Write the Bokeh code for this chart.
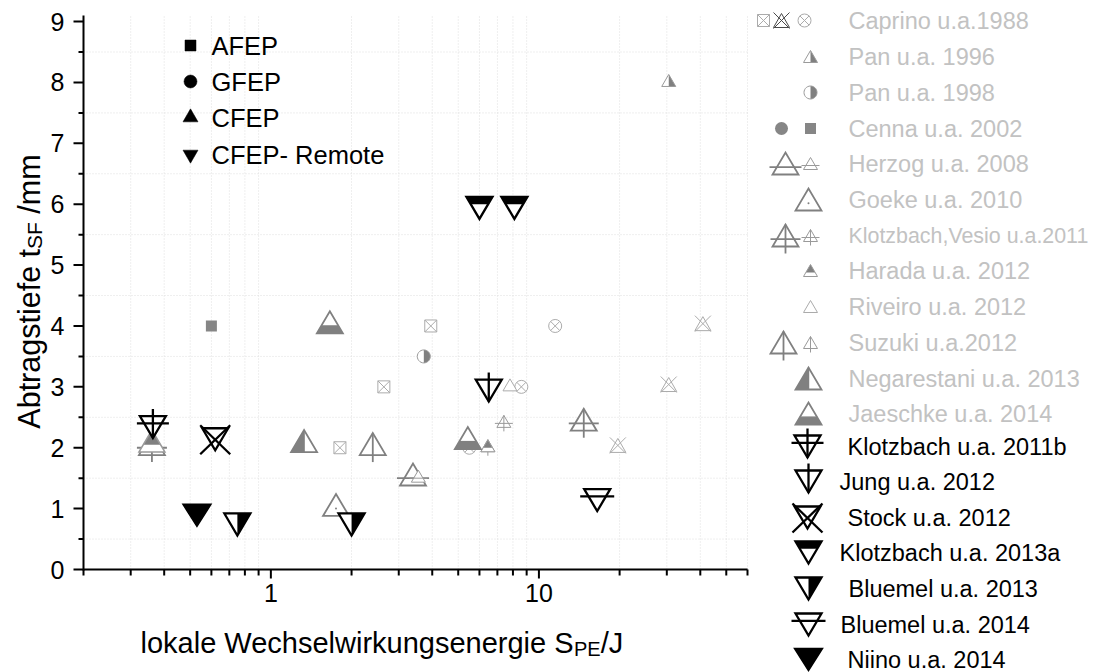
import math
from bokeh.plotting import figure
from bokeh.models import Range1d
from bokeh.core.properties import value
from bokeh.embed import file_html
from bokeh.resources import INLINE

FONT = "Liberation Sans"

# ---------------------------------------------------------------------------
# Data: local interaction energy S_PE [J] (x) vs. removal depth t_SF [mm] (y)
# ---------------------------------------------------------------------------
# literature
caprino_sq_x = [1.81, 2.64, 3.95]
caprino_sq_y = [2.0, 3.0, 4.0]
caprino_tri_x = [19.7, 30.5, 40.9]
caprino_tri_y = [2.0, 3.0, 4.0]
caprino_circ_x = [5.5, 8.6, 11.5]
caprino_circ_y = [2.0, 3.0, 4.0]
pan1996_x = [30.5]
pan1996_y = [8.0]
pan1998_x = [3.72]
pan1998_y = [3.5]
cenna_x = [0.6]
cenna_y = [4.0]
herzog_x = [3.39]
herzog_y = [1.5]
herzog_small_x = [3.55]
herzog_small_y = [1.5]
goeke_x = [1.75]
goeke_y = [1.0]
kv_x = [0.36, 14.7]
kv_y = [2.0, 2.4]
kv_small_x = [7.4]
kv_small_y = [2.4]
harada_x = [0.36, 6.45]
harada_y = [2.05, 2.0]
riveiro_x = [7.8]
riveiro_y = [3.0]
suzuki_x = [2.4]
suzuki_y = [2.0]
suzuki_small_x = [6.45]
suzuki_small_y = [2.0]
negarestani_x = [1.33]
negarestani_y = [2.05]
jaeschke_x = [1.66, 5.43]
jaeschke_y = [4.0, 2.1]
# own work
klotzbach11b_x = [0.363]
klotzbach11b_y = [2.4]
jung_x = [6.5]
jung_y = [3.0]
stock_x = [0.62]
stock_y = [2.2]
klotzbach13a_x = [6.0, 8.1]
klotzbach13a_y = [6.0, 6.0]
bluemel13_x = [0.75, 2.0]
bluemel13_y = [0.8, 0.8]
bluemel14_x = [16.5]
bluemel14_y = [1.2]
niino_x = [0.53]
niino_y = [0.95]

# axes
x_major = [1, 10]
x_major_labels = ["1", "10"]
x_minor = [k * d for d in (0.1, 1, 10) for k in range(2, 10) if 0.2 <= k * d <= 60]
y_major = list(range(10))
y_major_labels = [str(v) for v in y_major]
y_minor = [i + 0.5 for i in range(9)]

# ---------------------------------------------------------------------------
# Geometry: plot area inside a full-page canvas
# ---------------------------------------------------------------------------
PAGE_W, PAGE_H = 1093, 672
X0, X1 = 0.2, 60.0           # axis extent (log)
Y0, Y1 = 0.0, 9.1            # axis extent (linear)
FW, FH = 664, 554            # axis box in px
L, T = 83, 15                # axis box offset in px
PPD = FW / math.log10(X1 / X0)
PPY = FH / (Y1 - Y0)


def page_to_data(px, py):
    return X0 * 10 ** ((px - L) / PPD), Y0 + (T + FH - py) / PPY


def conv(xc, yc, dx, dy):
    """Shift a data point by a pixel offset (dx right, dy up)."""
    return xc * 10 ** (dx / PPD), yc + dy / PPY


# ---------------------------------------------------------------------------
# Marker construction (offsets in pixels, y up, anchor = triangle centroid)
# ---------------------------------------------------------------------------
W = "white"
G = "#808080"
GF = "#868686"
GS = "#9a9a9a"
GL = "#ababab"
K = "black"
BW, BH = 26, 22
SW, SH = 14, 12


def up(w, h):
    return [(-w / 2, -h / 3), (w / 2, -h / 3), (0, 2 * h / 3)]


def dn(w, h):
    return [(-w / 2, h / 3), (w / 2, h / 3), (0, -2 * h / 3)]


def circ(r, a0=0.0, a1=2 * math.pi, n=28):
    return [(r * math.cos(a0 + (a1 - a0) * i / n), r * math.sin(a0 + (a1 - a0) * i / n)) for i in range(n + 1)]


def P(pts, fill, line, lw=1.0):
    return ("P", pts, fill, line, lw)


def S(pts, color, lw=1.0):
    return ("S", pts, color, lw)


def M(marker, size, fill, line, lw=1.0):
    return ("M", marker, size, fill, line, lw)


def parts(kind):
    if kind == "caprino_sq":
        return [M("square_x", 12, W, GL, 1)]
    if kind == "caprino_circ":
        return [M("circle_x", 13, W, GL, 1)]
    if kind in ("caprino_tri", "caprino_tri_dark"):
        c = GL if kind == "caprino_tri" else "#4a4a4a"
        w, h = 16, 14
        cy = h / 6
        return [P(up(w, h), W, c, 1),
                S([(-8, cy + 8), (8, cy - 8)], c, 1),
                S([(-8, cy - 8), (8, cy + 8)], c, 1)]
    if kind == "pan1996":
        w, h = SW, SH
        return [P(up(w, h), W, None), P([(0, -h / 3), (w / 2, -h / 3), (0, 2 * h / 3)], G, None),
                P(up(w, h), None, GS, 1)]
    if kind == "pan1998":
        return [P(circ(6.5), W, None), P(circ(6.5, -math.pi / 2, math.pi / 2), G, None),
                P(circ(6.5), None, GS, 1)]
    if kind == "cenna_circ":
        return [M("circle", 13, GF, None, 0)]
    if kind == "cenna_sq":
        return [M("square", 11, GF, None, 0)]
    if kind == "herzog_big":
        return [P(up(BW, BH), W, G, 1.8), S([(-BW / 2 - 3, 0), (BW / 2 + 3, 0)], G, 1.8)]
    if kind == "herzog_small":
        return [P(up(SW, SH), W, GS, 1), S([(-SW / 2 - 2, 0), (SW / 2 + 2, 0)], GS, 1)]
    if kind == "goeke":
        return [P(up(BW, BH), W, G, 1.8), M("circle", 2, G, None, 0)]
    if kind == "kv_big":
        return [P(up(BW, BH), W, G, 1.8), S([(-BW / 2 - 2, 0), (BW / 2 + 2, 0)], G, 1.8),
                S([(0, 2 * BH / 3), (0, -BH / 3 - 7)], G, 1.8)]
    if kind == "kv_small":
        return [P(up(SW, SH), W, GS, 1), S([(-SW / 2 - 2, 0), (SW / 2 + 2, 0)], GS, 1),
                S([(0, 2 * SH / 3), (0, -SH / 3 - 4)], GS, 1)]
    if kind in ("harada", "harada_big"):
        w, h, lw = (SW, SH, 1) if kind == "harada" else (BW, BH, 1.5)
        return [P(up(w, h), W, None), P([(-w / 3, 0), (w / 3, 0), (0, 2 * h / 3)], G, None),
                P(up(w, h), None, GS, lw)]
    if kind == "riveiro":
        return [P(up(SW, SH), W, GL, 1)]
    if kind == "suzuki_big":
        return [P(up(BW, BH), W, G, 1.8), S([(0, 2 * BH / 3), (0, -BH / 3 - 7)], G, 1.8)]
    if kind == "suzuki_small":
        return [P(up(SW, SH), W, GS, 1), S([(0, 2 * SH / 3), (0, -SH / 3 - 4)], GS, 1)]
    if kind == "negarestani":
        w, h = BW, BH
        return [P(up(w, h), W, None), P([(-w / 2, -h / 3), (0, -h / 3), (0, 2 * h / 3)], G, None),
                P(up(w, h), None, G, 1.8), S([(0, -h / 3), (0, 2 * h / 3)], G, 1.5)]
    if kind == "jaeschke":
        w, h = BW, BH
        return [P(up(w, h), W, None),
                P([(-w / 2, -h / 3), (w / 2, -h / 3), (w / 3, 0), (-w / 3, 0)], G, None),
                P(up(w, h), None, G, 1.8), S([(-w / 3, 0), (w / 3, 0)], G, 1.5)]
    w, h, lw = 26, 22, 2.3
    if kind == "k11b":
        return [P(dn(w, h), W, K, lw), S([(-w / 2 - 3, 0), (w / 2 + 3, 0)], K, lw),
                S([(0, -2 * h / 3), (0, h / 3 + 7)], K, lw)]
    if kind == "jung":
        return [P(dn(w, h), W, K, lw), S([(0, -2 * h / 3), (0, h / 3 + 7)], K, lw)]
    if kind == "stock":
        cy = -h / 6
        return [P(dn(w, h), W, K, lw),
                S([(-15, cy + 14), (15, cy - 15)], K, lw),
                S([(-15, cy - 15), (15, cy + 14)], K, lw)]
    if kind == "k13a":
        return [P(dn(w, h), W, None),
                P([(-w / 2, h / 3), (w / 2, h / 3), (w / 3, 0), (-w / 3, 0)], K, None),
                P(dn(w, h), None, K, lw)]
    if kind == "b13":
        return [P(dn(w, h), W, None), P([(0, h / 3), (w / 2, h / 3), (0, -2 * h / 3)], K, None),
                P(dn(w, h), None, K, lw)]
    if kind == "b14":
        return [P(dn(w, h), W, K, lw), S([(-w / 2 - 4, 0), (w / 2 + 4, 0)], K, lw)]
    if kind == "niino":
        return [P(dn(28, 22), K, K, 1.5)]
    raise ValueError(kind)


def bbox_shift(kind):
    """Height (px) of a marker's bounding-box centre above its anchor."""
    if kind in ("caprino_sq", "caprino_circ", "pan1998", "cenna_circ", "cenna_sq"):
        return 0.0
    if kind in ("caprino_tri", "caprino_tri_dark"):
        return 14 / 6
    if kind in ("k11b", "jung", "stock", "k13a", "b13", "b14", "niino"):
        return -22 / 6
    if kind in ("pan1996", "herzog_small", "kv_small", "harada", "riveiro", "suzuki_small"):
        return SH / 6
    return BH / 6


def draw(fig, kind, xs, ys):
    for prim in parts(kind):
        if prim[0] in ("P", "S"):
            pts = prim[1]
            PX, PY = [], []
            for xc, yc in zip(xs, ys):
                q = [conv(xc, yc, dx, dy) for dx, dy in pts]
                PX.append([a for a, _ in q])
                PY.append([b for _, b in q])
            if prim[0] == "P":
                _, _, fill, line, lw = prim
                fig.patches(PX, PY, fill_color=fill, line_color=line, line_width=lw,
                            line_join="miter")
            else:
                _, _, color, lw = prim
                fig.multi_line(PX, PY, line_color=color, line_width=lw)
        else:
            _, marker, size, fill, line, lw = prim
            fig.scatter(list(xs), list(ys), marker=marker, size=size, fill_color=fill,
                        line_color=line, line_width=lw)


def text(fig, px, py, s, size, color="black", align="left", angle=0.0):
    x, y = page_to_data(px, py)
    fig.text([x], [y], text=[s], text_font=value(FONT), text_font_size=value(size),
             text_align=align, text_baseline="middle", text_color=color, angle=angle)


# ---------------------------------------------------------------------------
# Figure
# ---------------------------------------------------------------------------
xa, ya = page_to_data(0, PAGE_H)
xb, yb = page_to_data(PAGE_W, 0)
p = figure(width=PAGE_W, height=PAGE_H, title=None, x_axis_type="log",
           x_range=Range1d(xa, xb), y_range=Range1d(ya, yb),
           min_border=0, x_axis_location=None, y_axis_location=None,
           output_backend="svg", toolbar_location=None)
p.outline_line_color = None
p.grid.visible = False
p.background_fill_color = "white"
p.border_fill_color = "white"

# dotted minor grid
GRID = dict(line_color="#dedede", line_width=1, line_dash="1 2")
p.segment(x0=x_minor, y0=[Y0] * len(x_minor), x1=x_minor, y1=[Y1] * len(x_minor), **GRID)
p.segment(x0=[X0] * len(y_minor), y0=y_minor, x1=[X1] * len(y_minor), y1=y_minor, **GRID)

# axis lines
p.segment(x0=[X0, X0], y0=[Y0 - 1 / PPY, Y0], x1=[X0, X1], y1=[Y1, Y0], line_color="black",
          line_width=2)


# ticks (outward)
def ticks_y(vals, length):
    x_end = conv(X0, 0, -length, 0)[0]
    p.segment(x0=[X0] * len(vals), y0=vals, x1=[x_end] * len(vals), y1=vals,
              line_color="black", line_width=2)


def ticks_x(vals, length):
    y_end = conv(1, Y0, 0, -length)[1]
    p.segment(x0=vals, y0=[Y0] * len(vals), x1=vals, y1=[y_end] * len(vals),
              line_color="black", line_width=2)


ticks_y(y_major, 10)
ticks_y(y_minor, 5)
ticks_x(x_major, 9)
ticks_x(x_minor, 6)

# tick labels
ylx = conv(X0, 0, -19, 0)[0]
p.text(x=[ylx] * len(y_major), y=y_major, text=y_major_labels, text_font=value(FONT),
       text_font_size=value("25px"), text_align="right", text_baseline="middle",
       text_color="black")
xly = conv(1, Y0, 0, -14)[1]
p.text(x=x_major, y=[xly] * len(x_major), text=x_major_labels, text_font=value(FONT),
       text_font_size=value("25px"), text_align="center", text_baseline="top",
       text_color="black")

# literature series
draw(p, "caprino_sq", caprino_sq_x, caprino_sq_y)
draw(p, "caprino_tri", caprino_tri_x, caprino_tri_y)
draw(p, "caprino_circ", caprino_circ_x, caprino_circ_y)
draw(p, "pan1996", pan1996_x, pan1996_y)
draw(p, "pan1998", pan1998_x, pan1998_y)
draw(p, "cenna_sq", cenna_x, cenna_y)
draw(p, "goeke", goeke_x, goeke_y)
draw(p, "herzog_big", herzog_x, herzog_y)
draw(p, "herzog_small", herzog_small_x, herzog_small_y)
draw(p, "kv_big", kv_x, kv_y)
draw(p, "harada_big", harada_x[:1], harada_y[:1])
draw(p, "kv_small", kv_small_x, kv_small_y)
draw(p, "riveiro", riveiro_x, riveiro_y)
draw(p, "suzuki_big", suzuki_x, suzuki_y)
draw(p, "suzuki_small", suzuki_small_x, suzuki_small_y)
draw(p, "harada", harada_x[1:], harada_y[1:])
draw(p, "negarestani", negarestani_x, negarestani_y)
draw(p, "jaeschke", jaeschke_x, jaeschke_y)
# own series
draw(p, "k11b", klotzbach11b_x, klotzbach11b_y)
draw(p, "jung", jung_x, jung_y)
draw(p, "stock", stock_x, stock_y)
draw(p, "k13a", klotzbach13a_x, klotzbach13a_y)
draw(p, "b13", bluemel13_x, bluemel13_y)
draw(p, "b14", bluemel14_x, bluemel14_y)
draw(p, "niino", niino_x, niino_y)

# process key
proc_names = ["AFEP", "GFEP", "CFEP", "CFEP- Remote"]
proc_markers = ["square", "circle", "triangle", "inverted_triangle"]
proc_sizes = [11, 13, 15, 15]
proc_rows = [45, 81, 117, 154]
for name, mk, sz, ry in zip(proc_names, proc_markers, proc_sizes, proc_rows):
    mx, my = page_to_data(190, ry)
    p.scatter([mx], [my], marker=mk, size=sz, fill_color="black", line_color="black",
              line_width=0.5)
    text(p, 211, ry, name, "25.5px")

# axis titles with subscripts (Arial-compatible advance widths)
AW = {" ": 278, "/": 278, ".": 278, ",": 278, "-": 333,
      "A": 667, "E": 667, "F": 611, "J": 500, "P": 667, "S": 667, "W": 944,
      "a": 556, "b": 556, "c": 500, "e": 556, "f": 278, "g": 556, "h": 556, "i": 222,
      "k": 500, "l": 222, "m": 833, "n": 556, "o": 556, "r": 333, "s": 500, "t": 278,
      "u": 556, "w": 722}


def tw(s, size):
    return sum(AW.get(c, 556) for c in s) * size / 1000.0


XL, XS = 29, 20
cx, mid = 140.0, 642.0
for txt, fs, off in [("lokale Wechselwirkungsenergie S", XL, 0), ("PE", XS, 6), ("/J", XL, 0)]:
    text(p, cx, mid + off, txt, f"{fs}px")
    cx += tw(txt, fs)

YL, YS = 30.5, 21
ytotal = tw("Abtragstiefe t", YL) + tw("SF", YS) + tw(" /mm", YL)
cy, midx = 291.0 + ytotal / 2, 28.0
for txt, fs, off in [("Abtragstiefe t", YL, 0), ("SF", YS, 6), ("/mm", YL, 0)]:
    if txt == "/mm":
        cy -= tw(" ", YL)
    text(p, midx + off, cy, txt, f"{fs}px", angle=math.pi / 2)
    cy -= tw(txt, fs)

# study key (right-hand side)
GT = "#c2c2c2"
LF = "23.5px"
legend_rows = [
    (20, "Caprino u.a.1988", GT, 848, LF, [(763, "caprino_sq"), (781, "caprino_tri_dark"), (804, "caprino_circ")]),
    (56, "Pan u.a. 1996", GT, 848, LF, [(810, "pan1996")]),
    (92, "Pan u.a. 1998", GT, 848, LF, [(810, "pan1998")]),
    (128, "Cenna u.a. 2002", GT, 848, LF, [(781, "cenna_circ"), (810, "cenna_sq")]),
    (163, "Herzog u.a. 2008", GT, 848, LF, [(785, "herzog_big"), (810, "herzog_small")]),
    (199, "Goeke u.a. 2010", GT, 848, LF, [(808, "goeke")]),
    (235, "Klotzbach,Vesio u.a.2011", GT, 848, "21.4px", [(785, "kv_big"), (810, "kv_small")]),
    (270, "Harada u.a. 2012", GT, 848, LF, [(810, "harada")]),
    (306, "Riveiro u.a. 2012", GT, 848, LF, [(810, "riveiro")]),
    (342, "Suzuki u.a.2012", GT, 848, LF, [(783, "suzuki_big"), (810, "suzuki_small")]),
    (378, "Negarestani u.a. 2013", GT, 848, LF, [(808, "negarestani")]),
    (413, "Jaeschke u.a. 2014", GT, 848, LF, [(808, "jaeschke")]),
    (446, "Klotzbach u.a. 2011b", K, 847, LF, [(807, "k11b")]),
    (481, "Jung u.a. 2012", K, 839, LF, [(808, "jung")]),
    (517, "Stock u.a. 2012", K, 847, LF, [(807, "stock")]),
    (552, "Klotzbach u.a. 2013a", K, 839, LF, [(808, "k13a")]),
    (588, "Bluemel u.a. 2013", K, 848, LF, [(808, "b13")]),
    (624, "Bluemel u.a. 2014", K, 840, LF, [(808, "b14")]),
    (659, "Niino u.a. 2014", K, 847, LF, [(808, "niino")]),
]
for ry, label, color, tx, fs, symbols in legend_rows:
    for sx, kind in symbols:
        ax_, ay_ = page_to_data(sx, ry + bbox_shift(kind))
        draw(p, kind, [ax_], [ay_])
    text(p, tx, ry, label, fs, color=color)

open("out.html", "w").write(file_html(p, INLINE))
